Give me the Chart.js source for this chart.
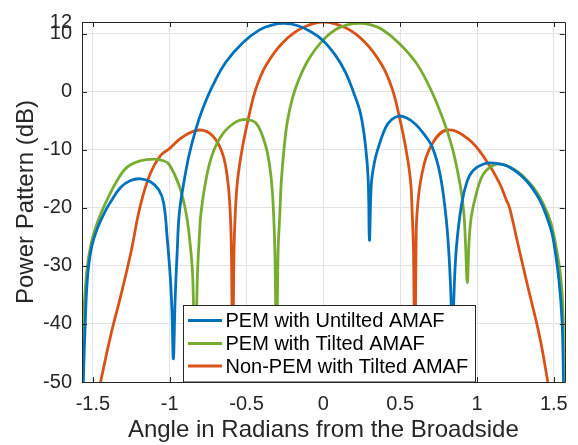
<!DOCTYPE html>
<html>
<head>
<meta charset="utf-8">
<script src="https://cdn.jsdelivr.net/npm/chart.js@4.4.1/dist/chart.umd.min.js"></script>
<style>
html,body{margin:0;padding:0;background:#fff;}
#wrap{width:578px;height:445px;position:relative;}
</style>
</head>
<body>
<div id="wrap"><canvas id="c" width="578" height="445"></canvas></div>
<script>
// ---- Data ----
const seriesNames = ["PEM with Untilted AMAF", "PEM with Tilted AMAF", "Non-PEM with Tilted AMAF"];

const xTicks = [-1.5, -1, -0.5, 0, 0.5, 1, 1.5];
const yTicks = [-50, -40, -30, -20, -10, 0, 10, 12];

const blueX = [-1.5625,-1.55,-1.535,-1.51,-1.47,-1.42,-1.385,-1.32,-1.255,-1.19,-1.125,-1.071,-1.039,-1.017,-0.996,-0.985,-0.976,-0.965,-0.952,-0.937,-0.905,-0.872,-0.829,-0.786,-0.721,-0.634,-0.526,-0.418,-0.33,-0.255,-0.17,-0.093,-0.006,0.08,0.145,0.195,0.243,0.275,0.292,0.3,0.312,0.33,0.351,0.405,0.445,0.491,0.54,0.6,0.655,0.708,0.758,0.795,0.815,0.83,0.84,0.85,0.866,0.899,0.935,0.974,1.039,1.113,1.212,1.32,1.407,1.46,1.494,1.533,1.554,1.563];
const blueY = [-50,-40,-32,-27,-23.5,-20.6,-19.0,-16.5,-15.3,-15.0,-15.5,-16.9,-19.2,-25,-32,-38,-46,-36,-28,-20.8,-15.2,-10.7,-6.4,-3.0,1.0,5.1,8.4,10.6,11.5,11.75,11.4,10.5,8.9,6.2,3.3,0,-3.9,-9.5,-15.2,-25.6,-16,-12.5,-10.2,-6.2,-4.8,-4.2,-4.5,-5.6,-7.3,-9.5,-14,-20.8,-27,-35,-45,-35,-26.8,-19.5,-15.5,-13.6,-12.5,-12.3,-13,-15.3,-18.6,-22,-25.1,-32.4,-39.8,-50];

const greenX = [-1.5708,-1.56,-1.54,-1.51,-1.47,-1.418,-1.342,-1.277,-1.19,-1.104,-1.04,-1.002,-0.937,-0.894,-0.87,-0.85,-0.835,-0.82,-0.805,-0.796,-0.764,-0.721,-0.656,-0.569,-0.504,-0.439,-0.385,-0.353,-0.331,-0.315,-0.305,-0.295,-0.283,-0.273,-0.255,-0.234,-0.201,-0.158,-0.093,-0.006,0.08,0.155,0.232,0.31,0.383,0.491,0.6,0.686,0.751,0.805,0.849,0.892,0.914,0.925,0.937,0.948,0.963,0.996,1.039,1.104,1.167,1.266,1.364,1.429,1.48,1.515,1.545,1.562,1.5708];
const greenY = [-50,-39,-31,-26,-22.5,-19.2,-15.3,-13,-11.9,-11.6,-11.9,-12.6,-16.3,-20.8,-25.5,-32,-50,-32,-24,-20.8,-15.2,-10.7,-7.3,-5.2,-4.8,-5.4,-8.5,-12.1,-17.5,-28,-50,-28,-20.8,-15.2,-9.6,-5.1,-1.1,2.2,5.7,8.8,10.7,11.5,11.75,11.5,10.7,8.4,5.1,1.1,-2.8,-6.7,-10.7,-16.3,-20.8,-26,-32.9,-26,-21.5,-17.5,-14.3,-12.7,-12.5,-13.8,-16.4,-19.2,-22.5,-26.8,-32,-39,-50];

const orangeX = [-1.45,-1.385,-1.32,-1.255,-1.19,-1.125,-1.06,-1.002,-0.916,-0.807,-0.721,-0.656,-0.623,-0.606,-0.598,-0.59,-0.582,-0.573,-0.558,-0.526,-0.482,-0.439,-0.374,-0.266,-0.136,0,0.145,0.275,0.383,0.448,0.491,0.535,0.567,0.578,0.587,0.595,0.603,0.61,0.643,0.708,0.805,0.946,1.061,1.147,1.19,1.212,1.26,1.32,1.407,1.461];
const orangeY = [-50,-42.1,-35.3,-28,-19.5,-14,-11,-9.8,-7.8,-6.6,-7.6,-10.7,-15.2,-20.8,-28,-50,-28,-20.8,-15.2,-9.5,-3.9,0.5,4.5,8.4,11.0,12.0,11.0,8.4,4.5,0.5,-3.9,-9.5,-15.2,-20.8,-28,-50,-28,-20.8,-14.0,-9.0,-6.6,-8.2,-11.9,-15.8,-18.6,-20,-25.5,-32.4,-42.1,-50];

const colors = ["#0072BD", "#77AC30", "#D95319"];

function pts(xs, ys){ return xs.map((x,i)=>({x:x, y:ys[i]})); }

// ---- fixed layout (pixels) ----
const PLOT = {left: 82, right: 566, top: 15, bottom: 382};
const FONT = "'Liberation Sans', Arial, Helvetica, sans-serif";
const AXC = "#262626";

const frame = {
  id: 'frame',
  afterDatasetsDraw(chart){
    const ctx = chart.ctx, a = chart.chartArea;
    const xs = chart.scales.x, ys = chart.scales.y;
    ctx.save();
    ctx.strokeStyle = AXC; ctx.lineWidth = 1;
    ctx.beginPath();
    ctx.rect(Math.round(a.left)+0.5, Math.round(a.top)+0.5, Math.round(a.right-a.left), Math.round(a.bottom-a.top));
    ctx.stroke();
    const tl = 5;
    ctx.beginPath();
    xTicks.forEach(v=>{
      const p = Math.round(xs.getPixelForValue(v))+0.5;
      ctx.moveTo(p, a.bottom); ctx.lineTo(p, a.bottom-tl);
      ctx.moveTo(p, a.top); ctx.lineTo(p, a.top+tl);
    });
    yTicks.forEach(v=>{
      const p = Math.round(ys.getPixelForValue(v))+0.5;
      ctx.moveTo(a.left, p); ctx.lineTo(a.left+tl, p);
      ctx.moveTo(a.right, p); ctx.lineTo(a.right-tl, p);
    });
    ctx.stroke();
    ctx.restore();
  },
  afterDraw(chart){
    // legend box inside plot, lower middle
    const ctx = chart.ctx, a = chart.chartArea;
    const bx = 183.5, by = 305.5, bw = 292, bh = a.bottom - 305.5;
    ctx.save();
    ctx.fillStyle = "#fff";
    ctx.fillRect(bx, by, bw, bh);
    ctx.strokeStyle = AXC; ctx.lineWidth = 1;
    ctx.strokeRect(bx, by, bw, bh);
    const rows = [320.5, 343.5, 366];
    ctx.font = "20px " + FONT;
    ctx.textBaseline = "middle";
    ctx.fillStyle = "#000";
    chart.data.datasets.forEach((ds,i)=>{
      ctx.strokeStyle = ds.borderColor; ctx.lineWidth = 2.8;
      ctx.beginPath(); ctx.moveTo(188, rows[i]); ctx.lineTo(222, rows[i]); ctx.stroke();
      ctx.fillText(ds.label, 225.5, rows[i]+1);
    });
    ctx.restore();
  }
};

new Chart(document.getElementById('c'), {
  type: 'line',
  data: {
    datasets: [
      {label: seriesNames[0], data: pts(blueX, blueY), borderColor: colors[0]},
      {label: seriesNames[1], data: pts(greenX, greenY), borderColor: colors[1]},
      {label: seriesNames[2], data: pts(orangeX, orangeY), borderColor: colors[2]}
    ].map(d=>Object.assign(d,{borderWidth:2.8, pointRadius:0, fill:false, tension:0.4}))
  },
  options: {
    responsive: false,
    animation: false,
    events: [],
    layout: {padding: {left: 0, top: PLOT.top, right: 578-PLOT.right, bottom: 0}},
    plugins: {legend: {display:false}, tooltip:{enabled:false}},
    scales: {
      x: {
        type: 'linear', min: -Math.PI/2, max: Math.PI/2,
        afterBuildTicks: s => { s.ticks = xTicks.map(v=>({value:v})); },
        afterFit: s => { s.height = 445 - PLOT.bottom; },
        border: {display:false},
        grid: {color: '#e3e3e3', lineWidth: 1, drawTicks: false},
        ticks: {color: AXC, font:{family: FONT, size: 20}, padding: 10, maxRotation: 0,
                callback: v => String(v)},
        title: {display: true, text: 'Angle in Radians from the Broadside', color: AXC,
                font:{family: FONT, size: 24}, padding: {top: 0, bottom: 0}}
      },
      y: {
        min: -50, max: 12,
        afterBuildTicks: s => { s.ticks = yTicks.map(v=>({value:v})); },
        afterFit: s => { s.width = PLOT.left; },
        border: {display:false},
        grid: {color: '#e3e3e3', lineWidth: 1, drawTicks: false},
        ticks: {color: AXC, font:{family: FONT, size: 20}, padding: 10,
                callback: v => String(v)},
        title: {display: true, text: 'Power Pattern (dB)', color: AXC,
                font:{family: FONT, size: 24}, padding: {top: 12, bottom: 4}}
      }
    }
  },
  plugins: [frame]
});
</script>
</body>
</html>
